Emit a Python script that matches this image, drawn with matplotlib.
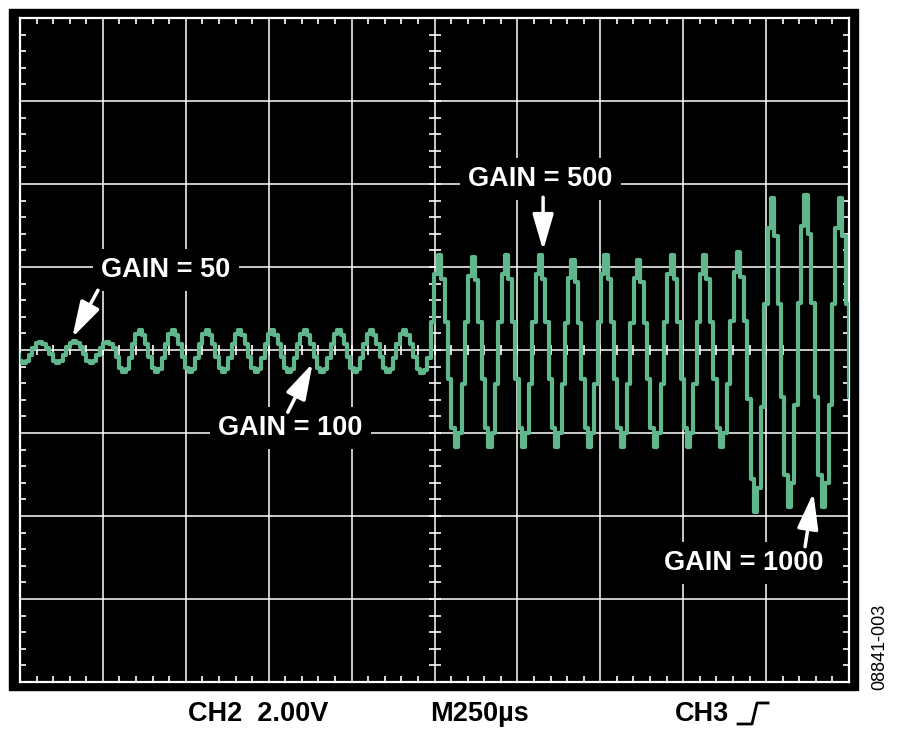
import numpy as np
import matplotlib
matplotlib.use("Agg")
import matplotlib.pyplot as plt
from matplotlib.patches import Rectangle
from matplotlib.lines import Line2D

plt.rcParams['font.family'] = ['Liberation Sans', 'DejaVu Sans']

# --- trace data (x in divisions, y in divisions) ---
# time of each cycle's positive peak (first and last are just off screen)
peak_t = [-0.15, 0.25, 0.66, 1.06, 1.45, 1.85, 2.26, 2.65, 3.05, 3.44, 3.85,
          4.24, 4.64, 5.06, 5.47, 5.87, 6.28, 6.67, 7.07, 7.46, 7.87, 8.26,
          8.67, 9.08, 9.48, 9.90, 10.30]
# level of each positive peak
peak_v = [0.10, 0.10, 0.11, 0.10, 0.24, 0.24, 0.24, 0.24, 0.24, 0.24, 0.24,
          0.24, 0.24, 1.14, 1.12, 1.14, 1.14, 1.09, 1.14, 1.09, 1.14, 1.14,
          1.18, 1.83, 1.87, 1.83, 1.85]
# level of the trough that follows each peak
trough_v = [-0.16, -0.16, -0.16, -0.27, -0.27, -0.27, -0.27, -0.27, -0.27,
            -0.27, -0.27, -0.27, -0.28, -1.17, -1.17, -1.17, -1.17, -1.17,
            -1.17, -1.17, -1.17, -1.17, -1.95, -1.89, -1.89, -1.90, -1.90]
# stair steps of one period as seen on screen, peak -> next peak
cycle_steps = [1.0, 0.75, 0.3, -0.3, -0.8, -1.0, -0.85, -0.35, 0.3, 0.8]

labels = ["GAIN = 50", "GAIN = 500", "GAIN = 100", "GAIN = 1000"]
footer = ["CH2  2.00V", "M250\u00b5s", "CH3"]

# build the stepped trace from the read values
t_all, v_all = [], []
n = len(cycle_steps)
for i in range(len(peak_t) - 1):
    dt = (peak_t[i + 1] - peak_t[i]) / n
    for k, s in enumerate(cycle_steps):
        t_all.append(peak_t[i] + k * dt)
        if s < 0:
            v_all.append(-s * trough_v[i])
        elif k < n // 2:
            v_all.append(s * peak_v[i])
        else:
            v_all.append(s * peak_v[i + 1])

fig = plt.figure(figsize=(9, 7.33), dpi=100)
fig.patch.set_facecolor('white')

# black scope bezel
fig.patches.append(Rectangle((9 / 900, 1 - 690 / 733), 849 / 900, 681 / 733,
                             transform=fig.transFigure, color='black', zorder=-5))

ax = fig.add_axes([20 / 900, 1 - 682 / 733, 829 / 900, 664 / 733])
ax.set_zorder(2)
ax.set_facecolor('black')
ax.set_xlim(0, 10)
ax.set_ylim(-4, 4)

for sp in ax.spines.values():
    sp.set_color('white')
    sp.set_linewidth(1.6)

ax.set_xticks(range(11))
ax.set_yticks(range(-4, 5))
ax.set_xticks(np.arange(0, 10.01, 0.2), minor=True)
ax.set_yticks(np.arange(-4, 4.01, 0.2), minor=True)
ax.tick_params(which='major', length=0, labelbottom=False, labelleft=False)
ax.tick_params(which='minor', direction='in', length=4, width=1.2, color='white',
               top=True, right=True, bottom=True, left=True)

# graticule
for x in range(1, 10):
    ax.axvline(x, color='white', lw=1.1, zorder=1)
for y in range(-3, 4):
    ax.axhline(y, color='white', lw=1.1, zorder=1)

# tick marks on the centre cross
cx = np.arange(0.2, 10, 0.2)
cy = np.arange(-3.8, 4, 0.2)
ax.plot(cx, np.zeros_like(cx), ls='none', marker='|', ms=7, mew=1.2, color='white', zorder=1)
ax.plot(np.full_like(cy, 5.0), cy, ls='none', marker='_', ms=9, mew=1.2, color='white', zorder=1)

ax.plot(t_all, v_all, drawstyle='steps-mid', color='#60b78c', lw=3.0, zorder=4)

# annotations
box = dict(boxstyle='square,pad=0.3', fc='black', ec='none')
text_pos = [(1.76, 0.96), (6.28, 2.06), (3.26, -0.94), (8.73, -2.57)]
for lab, (x, y) in zip(labels, text_pos):
    ax.text(x, y, lab, color='white', fontsize=19.5, fontweight='bold',
            ha='center', va='center', bbox=box, zorder=3)

arrow_pairs = [((0.94, 0.72), (0.63, 0.15)),
               ((6.31, 1.84), (6.31, 1.20)),
               ((3.23, -0.75), (3.53, -0.16)),
               ((9.47, -2.37), (9.57, -1.72))]
for tail, tip in arrow_pairs:
    ax.annotate('', xy=tip, xytext=tail,
                arrowprops=dict(arrowstyle='-|>,head_length=1.1,head_width=0.32',
                                mutation_scale=20, color='white', lw=2.5,
                                shrinkA=0, shrinkB=0), zorder=5)

# scope readout below the screen
fig.text(258 / 900, 1 - 714 / 733, footer[0], fontsize=19.5, fontweight='bold',
         ha='center', va='center')
fig.text(480 / 900, 1 - 714 / 733, footer[1], fontsize=19.5, fontweight='bold',
         ha='center', va='center')
fig.text(702 / 900, 1 - 714 / 733, footer[2], fontsize=19.5, fontweight='bold',
         ha='center', va='center')
# trigger edge symbol
sx = np.array([738, 752, 757, 768]) / 900
sy = 1 - np.array([724, 724, 703, 703]) / 733
fig.add_artist(Line2D(sx, sy, color='black', lw=2, transform=fig.transFigure))

fig.text(880 / 900, 1 - 647 / 733, "08841-003", fontsize=13, rotation=90,
         ha='center', va='center')

fig.savefig('out.png', dpi=100, facecolor='white')
